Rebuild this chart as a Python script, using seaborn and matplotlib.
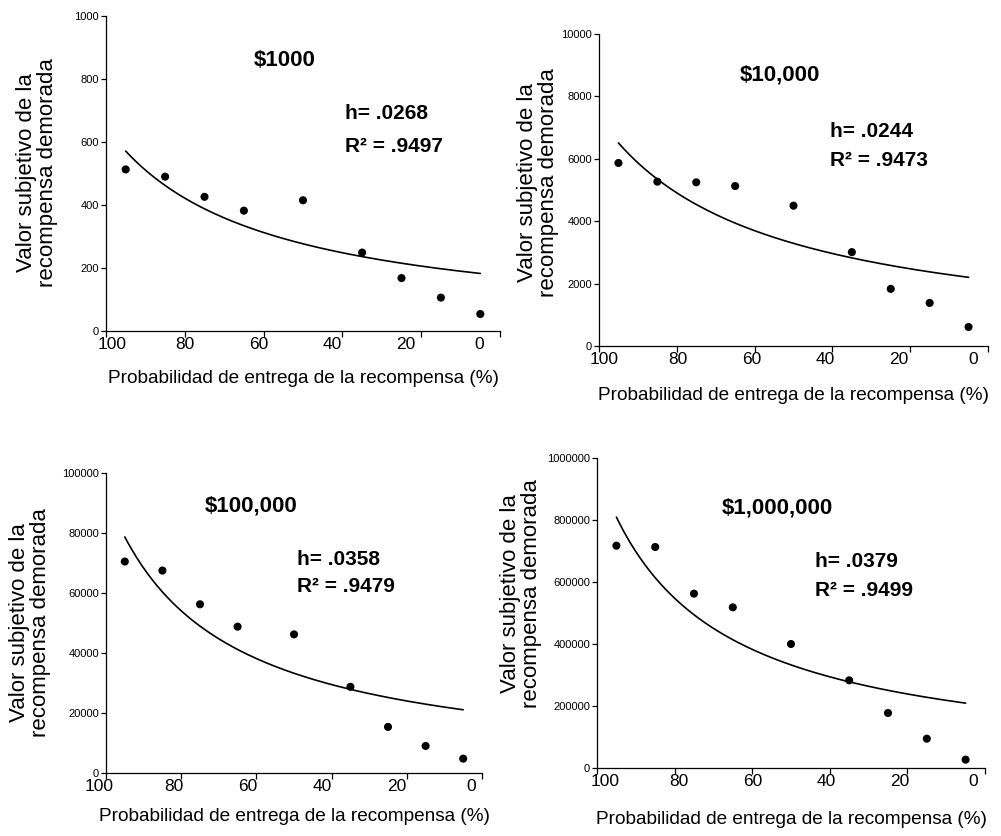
import numpy as np
import pandas as pd
import matplotlib
matplotlib.use("Agg")
import matplotlib.pyplot as plt
import matplotlib.transforms as mtransforms
import seaborn as sns

# ---- data ----
prob = [95, 85, 75, 65, 50, 35, 25, 15, 5]          # probability of delivery (%)
titles = ["$1000", "$10,000", "$100,000", "$1,000,000"]
h_vals = [0.0268, 0.0244, 0.0358, 0.0379]
r2_txt = [".9497", ".9473", ".9479", ".9499"]
h_txt = [".0268", ".0244", ".0358", ".0379"]
val_1k = [513, 490, 426, 382, 415, 249, 168, 106, 54]
val_10k = [5867, 5268, 5246, 5128, 4497, 3009, 1831, 1381, 610]
val_100k = [70490, 67480, 56240, 48780, 46210, 28730, 15370, 9020, 4790]
val_1m = [717200, 712900, 562400, 518300, 400000, 282800, 177400, 94600, 26900]
ymax = [1000, 10000, 100000, 1000000]
ystep = [200, 2000, 20000, 200000]
xticks = [100, 80, 60, 40, 20, 0]
values = [val_1k, val_10k, val_100k, val_1m]

sns.set_style("ticks")
plt.rcParams["font.family"] = ["Liberation Sans", "DejaVu Sans"]
plt.rcParams["text.color"] = "black"
plt.rcParams["axes.labelcolor"] = "black"
plt.rcParams["xtick.color"] = "black"
plt.rcParams["ytick.color"] = "black"

fig = plt.figure(figsize=(10.01, 8.36), dpi=100)
W, H = 1001, 836
# axes boxes in pixels: left, right, top, bottom
boxes = [(106, 500, 16, 331), (599, 988, 34, 346), (106, 482, 473, 773), (597, 985, 458, 768)]
title_pos = [(0.453, 0.860), (0.465, 0.869), (0.387, 0.890), (0.466, 0.839)]
h_pos = [(0.606, 0.689, 0.587), (0.594, 0.689, 0.593), (0.509, 0.713, 0.620), (0.562, 0.665, 0.574)]
ylab_pos = [(-0.122, 0.502), (-0.103, 0.524), (-0.146, 0.50), (-0.142, 0.563)]
xlab_pos = [-0.124, -0.131, -0.117, -0.139]
# tick labels in the original sit on a slightly compressed scale (axes fraction of "100" and "0")
lab_span = [(0.015, 0.947), (0.013, 0.961), (-0.019, 0.972), (0.021, 0.969)]

for i in range(4):
    l, r, t, b = boxes[i]
    ax = fig.add_axes([l / W, (H - b) / H, (r - l) / W, (b - t) / H])
    y = np.array(values[i], dtype=float)
    p = np.array(prob, dtype=float)
    # hyperbolic model fitted with the reported h: V = A / (1 + h*(100-p))
    f = 1.0 / (1.0 + h_vals[i] * (100 - p))
    A = np.sum(y * f) / np.sum(f * f)
    pc = np.linspace(95, 5, 200)
    vc = A / (1.0 + h_vals[i] * (100 - pc))
    df_pts = pd.DataFrame({"p": p, "v": y})
    df_fit = pd.DataFrame({"p": pc, "v": vc})
    sns.lineplot(data=df_fit, x="p", y="v", ax=ax, color="black", lw=1.2, sort=False)
    sns.scatterplot(data=df_pts, x="p", y="v", ax=ax, color="black", s=34,
                    edgecolor="none", zorder=3)
    ax.set_xticks(xticks, [str(v) for v in xticks])
    ax.set_yticks(np.arange(0, ymax[i] + 1, ystep[i]))
    ax.set_yticklabels([str(int(v)) for v in np.arange(0, ymax[i] + 1, ystep[i])])
    ax.set_xlim(100, 0)
    ax.set_ylim(0, ymax[i])
    for s in ["top", "right"]:
        ax.spines[s].set_visible(False)
    for s in ["left", "bottom"]:
        ax.spines[s].set_linewidth(0.9)
        ax.spines[s].set_color("black")
    ax.tick_params(axis="x", labelsize=12.5, length=4, width=0.9, pad=0, color="black")
    ax.tick_params(axis="y", labelsize=8, length=3.5, width=0.9, pad=1.5, color="black")
    # shift x tick labels onto the slightly compressed label scale of the original
    f100, f0 = lab_span[i]
    wpx = r - l
    for v, lab in zip(xticks, ax.get_xticklabels()):
        tick_frac = (100 - v) / 100
        lab_frac = f100 + (f0 - f100) * (100 - v) / 100
        dx = (lab_frac - tick_frac) * wpx / fig.dpi
        lab.set_transform(lab.get_transform() +
                          mtransforms.ScaledTranslation(dx, 0, fig.dpi_scale_trans))
    ax.set_xlabel("Probabilidad de entrega de la recompensa (%)", fontsize=13.7)
    ax.set_ylabel("Valor subjetivo de la\nrecompensa demorada", fontsize=16, linespacing=1.0)
    ax.xaxis.set_label_coords(0.5, xlab_pos[i])
    ax.xaxis.label.set_va("top")
    ax.yaxis.set_label_coords(*ylab_pos[i])
    ax.text(title_pos[i][0], title_pos[i][1], titles[i], transform=ax.transAxes,
            ha="center", va="center", fontsize=16, fontweight="bold")
    ax.text(h_pos[i][0], h_pos[i][1], "h= " + h_txt[i], transform=ax.transAxes,
            ha="left", va="center", fontsize=15, fontweight="bold")
    ax.text(h_pos[i][0], h_pos[i][2], "R² = " + r2_txt[i], transform=ax.transAxes,
            ha="left", va="center", fontsize=15, fontweight="bold")

fig.savefig("out.png", dpi=100, facecolor="white")
